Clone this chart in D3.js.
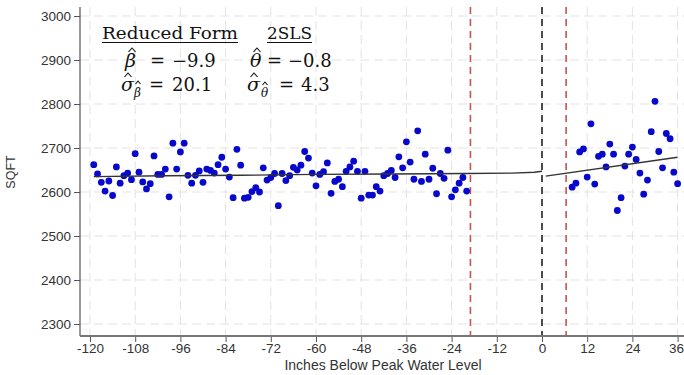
<!DOCTYPE html>
<html>
<head>
<meta charset="utf-8">
<script src="https://cdn.jsdelivr.net/npm/d3@7"></script>
<style>
  body { margin: 0; background: #fff; }
  svg { display: block; }
</style>
</head>
<body>
<svg id="chart" width="684" height="375"></svg>
<script>
// Binned mean square footage by inches below peak water level
const leftInches = [-119,-118,-117,-116,-115,-114,-113,-112,-111,-110,-109,-108,-107,-106,-105,-104,-103,-102,-101,-100,
  -99,-98,-97,-96,-95,-94,-93,-92,-91,-90,-89,-88,-87,-86,-85,-84,-83,-82,-81,-80,
  -79,-78,-77,-76,-75,-74,-73,-72,-71,-70,-69,-68,-67,-66,-65,-64,-63,-62,-61,-60,
  -59,-58,-57,-56,-55,-54,-53,-52,-51,-50,-49,-48,-47,-46,-45,-44,-43,-42,-41,-40,
  -39,-38,-37,-36,-35,-34,-33,-32,-31,-30,-29,-28,-27,-26,-25,-24,-23,-22,-21,-20];
const leftSqft = [2662,2641,2622,2602,2625,2592,2657,2620,2637,2643,2628,2687,2645,2623,2607,2619,2682,2640,2640,2652,
  2589,2711,2652,2691,2711,2638,2620,2638,2648,2622,2652,2649,2643,2662,2679,2652,2634,2587,2697,2661,
  2586,2588,2601,2610,2600,2655,2627,2633,2642,2569,2642,2626,2637,2656,2650,2661,2692,2677,2643,2614,
  2640,2646,2666,2597,2624,2629,2612,2647,2657,2670,2647,2586,2647,2593,2593,2612,2602,2637,2642,2649,
  2633,2680,2655,2714,2668,2629,2739,2624,2686,2629,2654,2596,2642,2631,2695,2589,2605,2620,2633,2602];

const rightInches = [8,9,10,11,12,13,14,15,16,17,18,19,20,21,22,23,24,25,26,27,28,29,30,31,32,33,34,35,36];
const rightSqft = [2611,2620,2691,2698,2634,2755,2618,2681,2686,2657,2709,2686,2558,2587,2659,2686,2702,2674,2643,2595,
  2627,2737,2806,2692,2655,2733,2721,2645,2619];

// Fitted lines on each side of the threshold
const leftFitX = [-119,-100,-80,-60,-40,-20,-8,-2,0];
const leftFitY = [2635,2637,2638,2640,2641,2642,2643,2645,2647];
const rightFitX = [1,36];
const rightFitY = [2636,2679];

// Threshold and bandwidth markers
const threshold = [0];
const bandwidth = [-19, 6.4];

const xTicks = [-120,-108,-96,-84,-72,-60,-48,-36,-24,-12,0,12,24,36];
const yTicks = [2300,2400,2500,2600,2700,2800,2900,3000];

const svg = d3.select("#chart");
const plotTop = 7, plotBottom = 336, plotLeft = 80;

const x = d3.scaleLinear().domain([-120, 36]).range([90, 677.6]);
const y = d3.scaleLinear().domain([2300, 3000]).range([324, 16]);

// Grid
const grid = svg.append("g").attr("stroke", "#e3e3e3").attr("stroke-width", 1).attr("stroke-dasharray", "9,5");
grid.selectAll("line.v").data(xTicks).join("line").attr("class", "v")
  .attr("x1", d => x(d)).attr("x2", d => x(d)).attr("y1", plotTop).attr("y2", plotBottom);
grid.selectAll("line.h").data(yTicks).join("line").attr("class", "h")
  .attr("x1", plotLeft).attr("x2", 684).attr("y1", d => y(d)).attr("y2", d => y(d));

// Vertical reference lines
svg.append("g").selectAll("line").data(bandwidth).join("line")
  .attr("x1", d => x(d)).attr("x2", d => x(d)).attr("y1", plotTop).attr("y2", plotBottom)
  .attr("stroke", "#c9534f").attr("stroke-width", 1.6).attr("stroke-dasharray", "7,5");
svg.append("g").selectAll("line").data(threshold).join("line")
  .attr("x1", d => x(d)).attr("x2", d => x(d)).attr("y1", plotTop).attr("y2", plotBottom)
  .attr("stroke", "#222").attr("stroke-width", 1.6).attr("stroke-dasharray", "7,5");

// Points
const pts = leftInches.map((d, i) => [d, leftSqft[i]])
  .concat(rightInches.map((d, i) => [d, rightSqft[i]]));
svg.append("g").selectAll("circle").data(pts).join("circle")
  .attr("cx", d => x(d[0])).attr("cy", d => y(d[1])).attr("r", 3.4)
  .attr("fill", "#0808cc");

// Fit lines
const line = d3.line().x(d => x(d[0])).y(d => y(d[1]));
svg.append("path").datum(leftFitX.map((d, i) => [d, leftFitY[i]]))
  .attr("d", line).attr("fill", "none").attr("stroke", "#333").attr("stroke-width", 1.4);
svg.append("path").datum(rightFitX.map((d, i) => [d, rightFitY[i]]))
  .attr("d", line).attr("fill", "none").attr("stroke", "#333").attr("stroke-width", 1.4);

// Axes
const axisFont = "'Liberation Sans', Arial, sans-serif";
const yAxis = svg.append("g").attr("transform", `translate(${plotLeft},0)`)
  .call(d3.axisLeft(y).tickValues(yTicks).tickSize(6).tickPadding(3).tickFormat(d => String(d)));
yAxis.select(".domain").remove();
yAxis.append("line").attr("x1", 0).attr("x2", 0).attr("y1", plotTop).attr("y2", plotBottom)
  .attr("stroke", "#555").attr("stroke-width", 1.2);

const xAxis = svg.append("g").attr("transform", `translate(0,${plotBottom})`)
  .call(d3.axisBottom(x).tickValues(xTicks).tickSize(6).tickPadding(1).tickFormat(d => String(d)));
xAxis.select(".domain").remove();
xAxis.append("line").attr("x1", plotLeft).attr("x2", 684).attr("y1", 0).attr("y2", 0)
  .attr("stroke", "#777").attr("stroke-width", 2);

[yAxis, xAxis].forEach(g => {
  g.selectAll(".tick line").attr("stroke", "#555");
  g.selectAll(".tick text").attr("fill", "#333").attr("font-size", 13.5).attr("font-family", axisFont);
});
// keep the last x label inside the canvas
xAxis.selectAll(".tick text").filter(d => d === 36).attr("text-anchor", "end").attr("dx", "6");

svg.append("text").attr("transform", "translate(15,172) rotate(-90)")
  .attr("text-anchor", "middle").attr("font-family", axisFont).attr("font-size", 12.5)
  .attr("fill", "#333").text("SQFT");
svg.append("text").attr("x", 383).attr("y", 370)
  .attr("text-anchor", "middle").attr("font-family", axisFont).attr("font-size", 14)
  .attr("fill", "#333").text("Inches Below Peak Water Level");

// Estimates box
const serif = "'DejaVu Serif', 'Liberation Serif', serif";
const ann = svg.append("g").attr("font-family", serif).attr("fill", "#111");

function put(txt, px, py, size, italic) {
  return ann.append("text").attr("x", px).attr("y", py).attr("font-size", size)
    .attr("font-style", italic ? "italic" : "normal").text(txt);
}
// circumflex accent drawn above a symbol
function hat(cx, by, w, h) {
  ann.append("path")
    .attr("d", `M${cx - w / 2},${by} L${cx},${by - h} L${cx + w / 2},${by}`)
    .attr("fill", "none").attr("stroke", "#111").attr("stroke-width", 1.1);
}

put("Reduced Form", 102, 39, 17).attr("textLength", 136).attr("lengthAdjust", "spacingAndGlyphs");
put("2SLS", 267, 39, 17).attr("textLength", 45).attr("lengthAdjust", "spacingAndGlyphs");
ann.append("line").attr("x1", 102).attr("x2", 238).attr("y1", 42.5).attr("y2", 42.5).attr("stroke", "#111").attr("stroke-width", 1.2);
ann.append("line").attr("x1", 267).attr("x2", 312).attr("y1", 42.5).attr("y2", 42.5).attr("stroke", "#111").attr("stroke-width", 1.2);

// row 1: point estimates
put("\u03B2", 125, 67, 19, true);
hat(132, 52, 7, 4);
put("=", 150, 67, 18);
put("\u22129.9", 172, 67, 18);
put("\u03B8", 250, 67, 19, true);
hat(257, 52, 7, 4);
put("=", 267, 67, 18);
put("\u22120.8", 288, 67, 18);

// row 2: standard errors
put("\u03C3", 121, 91, 19, true);
hat(128, 77, 7, 4);
put("\u03B2", 134, 97, 12, true);
hat(138, 84, 5, 3);
put("=", 149, 91, 18);
put("20.1", 172, 91, 18);
put("\u03C3", 247, 91, 19, true);
hat(254, 77, 7, 4);
put("\u03B8", 261, 97, 12, true);
hat(265, 85, 5, 3);
put("=", 279, 91, 18);
put("4.3", 301, 91, 18);
</script>
</body>
</html>
